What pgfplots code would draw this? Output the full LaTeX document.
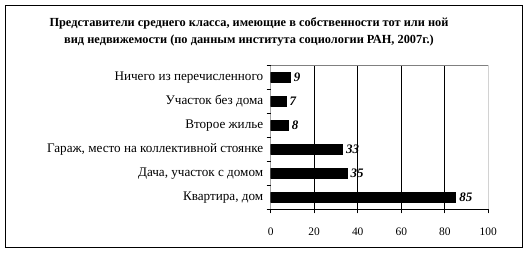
\documentclass[border=0pt]{standalone}
\usepackage{fontspec}
\setmainfont{Liberation Serif}
\usepackage{pgfplots}
\pgfplotsset{compat=1.18}
\begin{document}
\begin{tikzpicture}
\begin{axis}[
  at={(0,0)}, anchor=south west,
  scale only axis, width=217.6bp, height=144bp,
  xbar, bar width=10bp,
  xmin=0, xmax=100, ymin=-0.5, ymax=5.5,
  xtick={0,100},
  extra x ticks={20,40,60,80},
  extra x tick style={xmajorgrids=true, grid style={black, line width=0.8pt}},
  ytick={-0.5,0.5,...,5.5},
  y tick label as interval,
  yticklabels={{Квартира, дом\ },{Дача, участок с домом},{Гараж, место на коллективной стоянке},{Второе жилье},{Участок без дома},{Ничего из перечисленного}},
  tick align=outside, xtick pos=bottom, ytick pos=left,
  major tick length=4bp,
  tick style={black, line width=0.8pt},
  axis line style={draw=none},
  yticklabel style={font=\fontsize{13.2}{15}\selectfont},
  xticklabel style={font=\fontsize{11.5}{13}\selectfont, yshift=-11bp},
  /pgf/number format/assume math mode=true,
  nodes near coords,
  nodes near coords style={font=\fontsize{13}{15}\selectfont\bfseries\itshape, anchor=west, inner sep=0pt, xshift=3.5bp},
]
\addplot[fill=black, draw=black] coordinates {(85,0) (35,1) (33,2) (8,3) (7,4) (9,5)};
\draw[gray, line width=0.8pt] (rel axis cs:0,1) -- (rel axis cs:1,1) -- (rel axis cs:1,0);
\draw[black, line width=0.8pt] (rel axis cs:0,1) -- (rel axis cs:0,0) -- (rel axis cs:1,0);
\end{axis}
\node[anchor=base, font=\fontsize{12.4}{14}\selectfont\bfseries] at (-21.7bp,182.8bp) {Представители среднего класса, имеющие в собственности тот или ной};
\node[anchor=base, font=\fontsize{12.4}{14}\selectfont\bfseries] at (-21.7bp,165.8bp) {вид недвижемости (по данным института социологии РАН, 2007г.)};
\draw[black, line width=0.8pt] (-265.4bp,-38.4bp) rectangle (251.6bp,204bp);
\pgfresetboundingbox
\path[use as bounding box] (-270.7bp,-46.7bp) rectangle (258.3bp,209.3bp);
\end{tikzpicture}
\end{document}
